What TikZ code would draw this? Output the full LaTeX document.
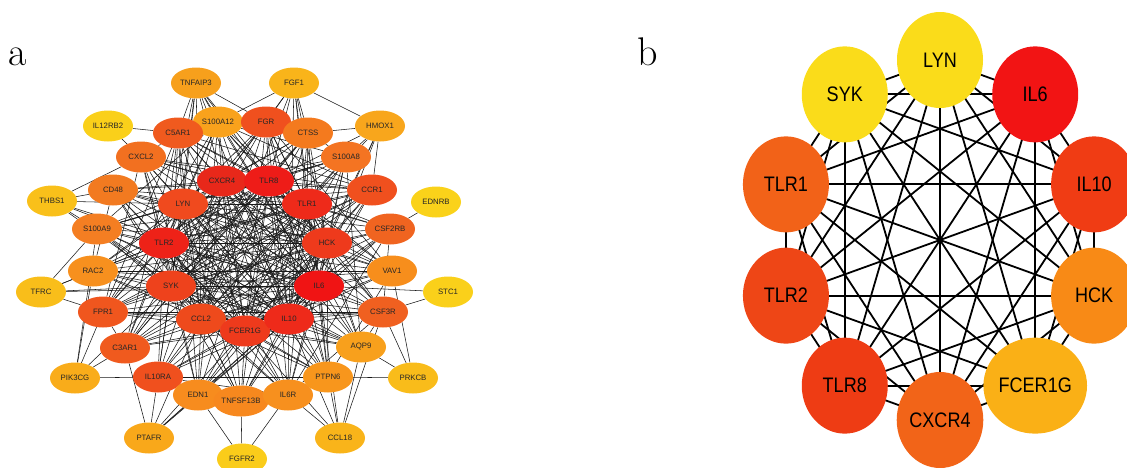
\documentclass[tikz,border=0pt]{standalone}
\usepackage{fontspec}
\newfontfamily\labfont{Liberation Sans}
\newfontfamily\labfontn[FakeStretch=0.86]{Liberation Sans}
\usetikzlibrary{shapes.geometric}
\pgfdeclarelayer{edges}
\pgfsetlayers{edges,main}
\begin{document}
\begin{tikzpicture}[x=1pt,y=-1pt,
  gn/.style={ellipse, minimum width=50pt, minimum height=31pt, inner sep=0pt,
    font=\labfont\fontsize{7.8}{8}\selectfont, text=black!85},
  hn/.style={ellipse, minimum width=86pt, minimum height=96pt, inner sep=0pt,
    font=\labfontn\fontsize{21}{24}\selectfont, text=black},
  ea/.style={line width=0.55pt, black!90},
  eb/.style={line width=1.8pt, black},
  panel/.style={anchor=base west, inner sep=0pt, font=\fontsize{40}{40}\selectfont}]
\useasboundingbox (0,0) rectangle (1127,467);
\node[panel] (la) at (8,65) {a};
\node[panel] (lb) at (637,65) {b};
% ---------------- panel a nodes
\foreach \n/\x/\y/\col in {
 TNFAIP3/196/83/F7A01C, FGF1/294/83/F9B41A, IL12RB2/108/126/FAD01A,
 S100A12/218/122/F9A21C, FGR/266/122/F0501E, C5AR1/178/133/F05A1E,
 CTSS/308/133/F47A1E, HMOX1/380/126/F8A61C, CXCL2/141/157/F27020,
 S100A8/346/157/F47422, CXCR4/222/181/E8281A, TLR8/269/181/EE1C18,
 CD48/113/190/F27A20, CCR1/372/190/F0501E, THBS1/52/201/F9C01A,
 EDNRB/436/202/FAD21A, LYN/183/204/F04A1E, TLR1/307/204/EE2A1A,
 S100A9/97/229/F47E22, CSF2RB/390/229/F06420, TLR2/164/243/EE2218,
 HCK/327/243/EE3A1C, RAC2/93/271/F7901E, VAV1/392/271/F78E1C,
 TFRC/41/292/F9BE1A, STC1/448/292/FAD01A, SYK/171/286/EE421C,
 IL6/319/286/F01414, FPR1/103/312/F0561E, CSF3R/383/312/F06020,
 CCL2/201/319/EE4A1C, FCER1G/245/331/EE3A1C, IL10/289/319/EE2A1A,
 C3AR1/125/348/F05A1E, AQP9/361/347/F8A01C, PIK3CG/75/378/F9AC1A,
 IL10RA/158/377/F0501E, PTPN6/328/377/F8961C, PRKCB/413/378/F9BC1A,
 EDN1/198/395/F78C1E, TNFSF13B/241/401/F7881E, IL6R/288/395/F7901E,
 PTAFR/149/438/F9A81A, CCL18/340/438/F9B41A, FGFR2/242/459/FACC1A}
 { \definecolor{tmpc}{HTML}{\col}
   \node[gn, fill=tmpc] (a-\n) at (\x,\y) {\n}; }
% ---------------- panel b nodes
\foreach \n/\ang/\col in {
 LYN/90/FADC1A, IL6/54/F21414, IL10/18/F03C14, HCK/-18/F88A16,
 FCER1G/-54/FAB016, CXCR4/-90/F26418, TLR8/-126/EE3C14, TLR2/-162/EE4616,
 TLR1/162/F26218, SYK/126/FADC1A}
 { \definecolor{tmpc}{HTML}{\col}
   \node[hn, fill=tmpc] (b-\n) at ({940+162*cos(\ang)},{240-180*sin(\ang)}) {\n}; }
% ---------------- edges
\begin{pgfonlayer}{edges}
% panel a: core clique
\foreach \u [count=\i] in {CXCR4,TLR8,LYN,TLR1,TLR2,HCK,SYK,IL6,CCL2,FCER1G,IL10}
  \foreach \v [count=\j] in {CXCR4,TLR8,LYN,TLR1,TLR2,HCK,SYK,IL6,CCL2,FCER1G,IL10}
    { \ifnum\j>\i \draw[ea] (a-\u) -- (a-\v); \fi }
% panel a: middle ring to core
\foreach \m in {FGR,C5AR1,CTSS,S100A8,CXCL2,CD48,CCR1,S100A9,CSF2RB,RAC2,VAV1,
  FPR1,CSF3R,C3AR1,AQP9,IL10RA,PTPN6,EDN1,TNFSF13B,IL6R,S100A12}
  \foreach \c in {CXCR4,TLR8,LYN,TLR1,TLR2,HCK,SYK,IL6,CCL2,FCER1G,IL10}
    { \draw[ea] (a-\m) -- (a-\c); }
% panel a: other edges
\foreach \u/\v in {
 TNFAIP3/C5AR1, TNFAIP3/S100A12, TNFAIP3/FGR, TNFAIP3/LYN, TNFAIP3/CXCR4,
 TNFAIP3/TLR8, TNFAIP3/TLR2, TNFAIP3/SYK, TNFAIP3/IL6, TNFAIP3/IL10,
 TNFAIP3/HCK, TNFAIP3/CCL2,
 FGF1/S100A12, FGF1/HMOX1, FGF1/FGR, FGF1/CTSS, FGF1/CXCR4, FGF1/TLR8,
 FGF1/IL6, FGF1/IL10, FGF1/TLR1, FGF1/CCL2, FGF1/HCK,
 IL12RB2/CXCL2, IL12RB2/C5AR1,
 HMOX1/S100A8, HMOX1/CTSS, HMOX1/CCR1, HMOX1/TLR1, HMOX1/IL6, HMOX1/IL10,
 HMOX1/HCK, HMOX1/TLR8,
 THBS1/CXCL2, THBS1/CD48, THBS1/S100A9, THBS1/TLR2, THBS1/LYN, THBS1/IL6, THBS1/SYK,
 EDNRB/CSF2RB,
 TFRC/RAC2, TFRC/S100A9, TFRC/FPR1, TFRC/SYK, TFRC/IL6, TFRC/TLR2,
 STC1/IL6, STC1/CSF3R,
 PIK3CG/C3AR1, PIK3CG/IL10RA, PIK3CG/FPR1, PIK3CG/RAC2, PIK3CG/S100A9, PIK3CG/SYK,
 PRKCB/PTPN6, PRKCB/AQP9, PRKCB/VAV1, PRKCB/CSF3R,
 PTAFR/IL10RA, PTAFR/C3AR1, PTAFR/EDN1, PTAFR/FCER1G, PTAFR/IL10, PTAFR/CCL2, PTAFR/IL6,
 CCL18/PTPN6, CCL18/IL6R, CCL18/IL10, CCL18/IL6, CCL18/AQP9, CCL18/FCER1G, CCL18/CSF3R,
 FGFR2/TNFSF13B, FGFR2/IL6R, FGFR2/EDN1,
 C5AR1/FPR1, C5AR1/C3AR1, C3AR1/FPR1, S100A8/S100A9, S100A12/S100A8, S100A12/S100A9,
 CCR1/FPR1, CCR1/C5AR1, CCR1/C3AR1, CXCL2/CCR1, CXCL2/FPR1, CXCL2/C5AR1,
 CD48/RAC2, CD48/VAV1, RAC2/VAV1, VAV1/PTPN6, CSF2RB/CSF3R, CSF3R/FPR1,
 IL6R/CSF3R, IL6R/CSF2RB, EDN1/IL6R, EDN1/TNFSF13B, TNFSF13B/IL6R, PTPN6/IL10RA,
 AQP9/S100A8, AQP9/S100A9, AQP9/CSF3R, IL10RA/IL6R, CTSS/S100A8, CTSS/C3AR1,
 FGR/PTPN6, FGR/VAV1, S100A12/CCR1, S100A12/FPR1}
 { \draw[ea] (a-\u) -- (a-\v); }
% panel b: complete graph
\foreach \u [count=\i] in {LYN,IL6,IL10,HCK,FCER1G,CXCR4,TLR8,TLR2,TLR1,SYK}
  \foreach \v [count=\j] in {LYN,IL6,IL10,HCK,FCER1G,CXCR4,TLR8,TLR2,TLR1,SYK}
    { \ifnum\j>\i \draw[eb] (b-\u.center) -- (b-\v.center); \fi }
\end{pgfonlayer}
\end{tikzpicture}
\end{document}
